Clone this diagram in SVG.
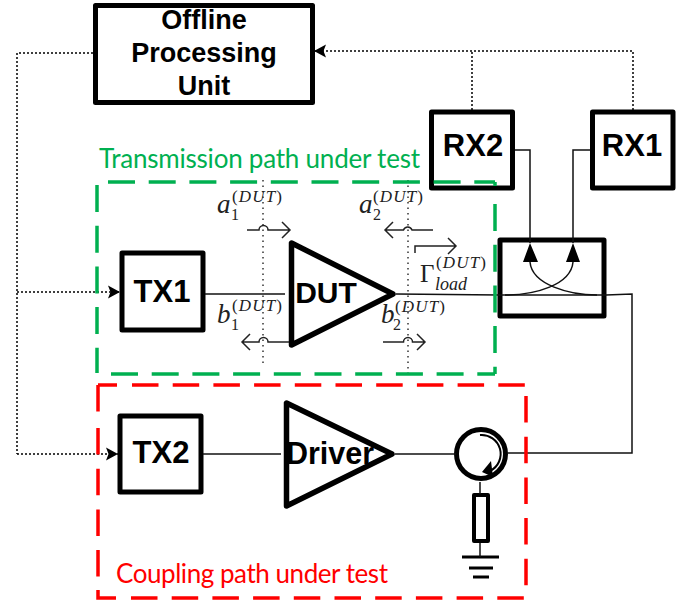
<svg xmlns="http://www.w3.org/2000/svg" width="693" height="601" viewBox="0 0 693 601">
<defs>
<marker id="ah" markerWidth="13" markerHeight="14" refX="12" refY="7" orient="auto" markerUnits="userSpaceOnUse"><path d="M0 0.5L12 7L0 13.5L2.5 7Z" fill="#000"/></marker>
</defs>
<style>
.box{fill:#fff;stroke:#000;stroke-width:5;stroke-linejoin:round}
.amp{fill:#fff;stroke:#000;stroke-width:5.5;stroke-linejoin:round}
.w{fill:none;stroke:#111;stroke-width:1.5}
.d{fill:none;stroke:#000;stroke-width:1.5;stroke-dasharray:2 2}
.p{fill:none;stroke:#333;stroke-width:1.5;stroke-dasharray:1.5 4}
.a{fill:none;stroke:#222;stroke-width:1.5}
.g{fill:none;stroke:#00b050;stroke-width:3.5;stroke-dasharray:27 13.7;stroke-linecap:butt}
.r{fill:none;stroke:#ff0000;stroke-width:3.5;stroke-dasharray:26.5 14.2;stroke-linecap:butt}
.t{font-family:"Liberation Sans",Arial,sans-serif;font-weight:bold;fill:#000;text-anchor:middle}
.m{font-family:"Liberation Serif",serif;font-style:italic;fill:#222}
.s{font-family:"Liberation Serif",serif;fill:#222;font-size:17px}
.n{font-family:"Liberation Serif",serif;fill:#222;font-size:16px}
.c{font-family:Lato,"Open Sans",sans-serif;font-size:26px}
</style>
<g id="offline"><rect class="box" x="95.500" y="5.500" width="217" height="97"/>
<text class="t" x="204" y="29" font-size="27">Offline</text><text class="t" x="204" y="62" font-size="27">Processing</text><text class="t" x="204" y="95" font-size="27">Unit</text></g>
<g id="rx2"><rect class="box" x="431.500" y="112" width="81" height="76"/><text class="t" x="473" y="156" font-size="31">RX2</text></g>
<g id="rx1"><rect class="box" x="592.500" y="112" width="80.500" height="76"/><text class="t" x="632" y="156" font-size="31">RX1</text></g>
<g id="tx1"><rect class="box" x="122" y="253" width="81" height="77"/><text class="t" x="162" y="302" font-size="31">TX1</text></g>
<g id="dut"><path class="amp" d="M291.500 243V345L393 294Z"/><text class="t" x="326" y="303" font-size="30">DUT</text></g>
<g id="tx2"><rect class="box" x="120" y="416" width="81" height="76"/><text class="t" x="161" y="463" font-size="31">TX2</text></g>
<g id="driver"><path class="amp" d="M286.500 403V506L392 454Z"/><text class="t" x="330" y="464" font-size="30.500">Driver</text></g>
<g id="coupler"><rect x="500" y="240" width="104" height="76" fill="#fff" stroke="#000" stroke-width="5" stroke-linejoin="round"/>
<path d="M530 243L523 262H538Z M573 243L566 262H580Z" fill="#000"/></g>
<g id="circulator"><circle cx="481" cy="454" r="24.500" fill="#fff" stroke="#000" stroke-width="5"/>
<path d="M480 435A19 19 0 0 1 490 471" fill="none" stroke="#000" stroke-width="2"/><path d="M482 472L491 461L493 477Z" fill="#000"/></g>
<g id="load"><rect x="474" y="495" width="14" height="46" fill="#fff" stroke="#000" stroke-width="4" stroke-linejoin="round"/>
<path d="M462 557H499M469 568H493M473 577H489" fill="none" stroke="#000" stroke-width="3"/></g>
<g id="connectors">
<path class="d" d="M93 53H17V454"/>
<path class="d" d="M17 292H120" marker-end="url(#ah)"/>
<path class="d" d="M17 454H118" marker-end="url(#ah)"/>
<path class="d" d="M633 110V51H314" marker-end="url(#ah)"/>
<path class="d" d="M472 110V51"/>
<path class="w" d="M205 294H285"/>
<path class="w" d="M396 294L500 295H606L632 294V453H507"/>
<path class="w" d="M203 454H281"/>
<path class="w" d="M395 454H456"/>
<path class="w" d="M515 150H530V243"/>
<path class="w" d="M590 150H573V243"/>
<path class="w" d="M530 262C532 285 570 295 597 295M573 262C571 285 535 295 505 295"/>
<path class="w" d="M480 482V494"/>
<path class="w" d="M480 543V557"/>
<path class="p" d="M263 180V367"/>
<path class="p" d="M408 180V373"/>
</g>
<g id="green-box">
<path class="g" d="M108 182H495"/><path class="g" d="M495 182V186"/><path class="g" d="M495 204V374"/><path class="g" d="M111 374H495"/><path class="g" d="M97 185V373"/>
</g>
<g id="red-box">
<path class="r" d="M98 385H117"/><path class="r" d="M132 385H526"/><path class="r" d="M526 396V590"/>
<path class="r" d="M98 385V413"/><path class="r" d="M98 428V590"/><path class="r" d="M98 590V598H116"/><path class="r" d="M131 598H526"/>
</g>
<g id="wave-labels">
<path class="a" d="M247 230H259A4.500 4.500 0 0 1 268 230H290M282 222L290 230L282 238"/>
<path class="a" d="M433 230H412A4.500 4.500 0 0 0 403.500 230H385M393 222L385 230L393 238"/>
<path class="a" d="M289 342H268A4.500 4.500 0 0 0 259 342H242M250 334L242 342L250 350"/>
<path class="a" d="M383 342H403.500A4.500 4.500 0 0 1 412.500 342H425M417 334L425 342L417 350"/>
<path class="a" d="M415 253V246H456M448 238L456 246L448 254"/>
<text class="m" x="217" y="213" font-size="27">a</text><text class="n" x="231" y="220">1</text><text class="s" x="232" y="202" textLength="50">(<tspan font-style="italic">DUT</tspan>)</text>
<text class="m" x="359" y="213" font-size="27">a</text><text class="n" x="373" y="220">2</text><text class="s" x="373" y="202" textLength="50">(<tspan font-style="italic">DUT</tspan>)</text>
<text class="m" x="217" y="323" font-size="27">b</text><text class="n" x="231" y="330">1</text><text class="s" x="232" y="311" textLength="50">(<tspan font-style="italic">DUT</tspan>)</text>
<text class="m" x="381" y="323" font-size="27">b</text><text class="n" x="393" y="330">2</text><text class="s" x="395" y="312" textLength="50">(<tspan font-style="italic">DUT</tspan>)</text>
<text class="s" x="420" y="282" style="font-size:25px">Γ</text><text class="s" x="436" y="268" textLength="50">(<tspan font-style="italic">DUT</tspan>)</text><text class="m" x="435" y="290" font-size="18">load</text>
</g>
<text class="c" x="99" y="168" fill="#00b050" textLength="321">Transmission path under test</text>
<text class="c" x="116" y="583" fill="#ff0000" textLength="272">Coupling path under test</text>
</svg>
